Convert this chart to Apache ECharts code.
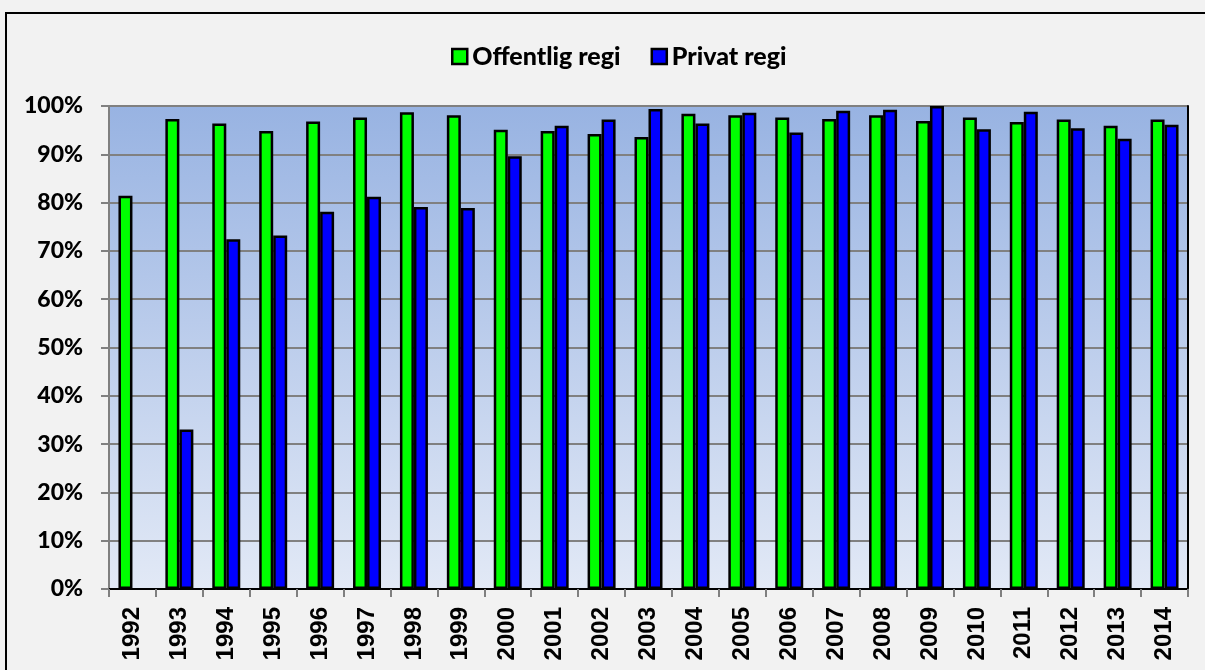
<!DOCTYPE html>
<html>
<head>
<meta charset="utf-8">
<script src="https://cdn.jsdelivr.net/npm/echarts@6/dist/echarts.min.js"></script>
<style>
  html, body { margin: 0; padding: 0; background: #f2f2f2; overflow: hidden; }
  #chart { width: 1205px; height: 670px; }
</style>
</head>
<body>
<div id="chart"></div>
<script>
// år
const years = ["1992", "1993", "1994", "1995", "1996", "1997", "1998", "1999", "2000", "2001", "2002", "2003",
  "2004", "2005", "2006", "2007", "2008", "2009", "2010", "2011", "2012", "2013", "2014"];

// andel i prosent
const offentlig = [81.4, 97.3, 96.4, 94.8, 96.8, 97.6, 98.7, 98.1, 95.1, 94.8, 94.2, 93.6,
  98.4, 98.1, 97.6, 97.3, 98.1, 96.9, 97.6, 96.7, 97.2, 95.9, 97.2];
const privat = [null, 33.0, 72.4, 73.2, 78.1, 81.2, 79.1, 78.9, 89.6, 95.9, 97.2, 99.4,
  96.4, 98.6, 94.5, 99.0, 99.2, 100, 95.2, 98.8, 95.4, 93.2, 96.1];

const yTicks = { min: 0, max: 100, step: 10 };

const myChart = echarts.init(document.getElementById("chart"));

const barStyle = (color) => ({
  color: color,
  borderColor: "#000",
  borderWidth: 2.5,
});

const option = {
  animation: false,
  backgroundColor: "#f2f2f2",
  // ramme rundt diagrammet (bare venstre og topp er synlig)
  graphic: [
    {
      type: "polyline",
      silent: true,
      shape: { points: [[6, 680], [6, 13], [1220, 13]] },
      style: { stroke: "#000", lineWidth: 2, fill: null },
    },
  ],
  legend: {
    left: 451,
    top: 44,
    padding: 0,
    itemWidth: 15,
    itemHeight: 15,
    itemGap: 30,
    icon: "rect",
    textStyle: {
      fontFamily: "Lato",
      fontWeight: 900,
      fontSize: 25,
      color: "#000",
      padding: [0, 0, 0, 0],
    },
    data: [
      { name: "Offentlig regi", itemStyle: barStyle("#00ff00") },
      { name: "Privat regi", itemStyle: barStyle("#0000ff") },
    ],
  },
  grid: {
    left: 109,
    right: 17,
    top: 106,
    bottom: 81,
    show: true,
    borderWidth: 0,
    backgroundColor: {
      type: "linear",
      x: 0, y: 0, x2: 0, y2: 1,
      colorStops: [
        { offset: 0, color: "#98b3e2" },
        { offset: 1, color: "#e2e9f6" },
      ],
    },
  },
  xAxis: [
    {
      type: "category",
      data: years,
      axisLine: { lineStyle: { color: "#808080", width: 2 } },
      axisTick: { show: true, length: 8, lineStyle: { color: "#808080", width: 2 } },
      axisLabel: {
        rotate: 90,
        margin: 18,
        interval: 0,
        fontFamily: "Liberation Sans",
        fontWeight: "bold",
        fontSize: 24,
        color: "#000",
      },
    },
    {
      type: "category",
      position: "top",
      data: years,
      axisLine: { lineStyle: { color: "#000", width: 2 } },
      axisTick: { show: false },
      axisLabel: { show: false },
    },
  ],
  yAxis: [
    {
      type: "value",
      min: yTicks.min,
      max: yTicks.max,
      interval: yTicks.step,
      axisLine: { show: true, lineStyle: { color: "#808080", width: 2 } },
      axisTick: { show: true, length: 8, lineStyle: { color: "#808080", width: 2 } },
      splitLine: { lineStyle: { color: "#808080", width: 2 } },
      axisLabel: {
        formatter: "{value}%",
        margin: 26,
        fontFamily: "Lato",
        fontWeight: 900,
        fontSize: 23,
        color: "#000",
      },
    },
    {
      type: "value",
      position: "right",
      min: yTicks.min,
      max: yTicks.max,
      interval: yTicks.step,
      axisLine: { show: true, lineStyle: { color: "#000", width: 2 } },
      axisTick: { show: false },
      axisLabel: { show: false },
      splitLine: { show: false },
    },
  ],
  series: [
    {
      name: "Offentlig regi",
      type: "bar",
      data: offentlig,
      barWidth: 14,
      barGap: "0%",
      itemStyle: barStyle("#00ff00"),
    },
    {
      name: "Privat regi",
      type: "bar",
      data: privat,
      barWidth: 14,
      barGap: "0%",
      itemStyle: barStyle("#0000ff"),
    },
  ],
};

myChart.setOption(option);
</script>
</body>
</html>
